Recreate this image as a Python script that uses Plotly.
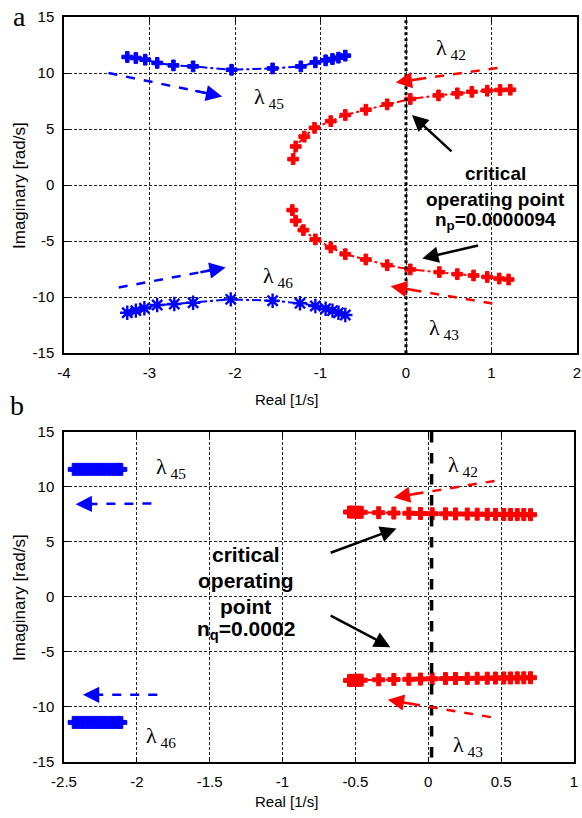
import plotly.graph_objects as go

BLUE = "#0000ff"
RED = "#ff0000"

# ---------------- panel a (top) data ----------------
a_l45_x = [-3.26, -3.16, -3.05, -2.91, -2.72, -2.49, -2.04, -1.56, -1.23, -1.06, -0.94, -0.86, -0.79, -0.71]
a_l45_y = [11.43, 11.34, 11.19, 10.90, 10.68, 10.59, 10.29, 10.41, 10.59, 10.95, 11.13, 11.25, 11.37, 11.55]
a_l46_x = [-3.26, -3.16, -3.06, -2.91, -2.71, -2.49, -2.05, -1.56, -1.24, -1.06, -0.94, -0.86, -0.79, -0.71]
a_l46_y = [-11.40, -11.22, -11.01, -10.71, -10.63, -10.51, -10.21, -10.33, -10.56, -10.80, -11.05, -11.22, -11.40, -11.61]
a_l42_x = [-1.32, -1.29, -1.19, -1.07, -0.88, -0.71, -0.47, -0.22, 0.05, 0.38, 0.60, 0.77, 0.95, 1.10, 1.22]
a_l42_y = [2.31, 3.44, 4.32, 5.10, 5.70, 6.25, 6.72, 7.20, 7.68, 8.00, 8.18, 8.32, 8.42, 8.48, 8.51]
a_l43_x = [-1.33, -1.29, -1.20, -1.06, -0.88, -0.71, -0.47, -0.22, 0.05, 0.39, 0.60, 0.79, 0.95, 1.09, 1.20]
a_l43_y = [-2.24, -3.20, -4.03, -4.86, -5.58, -6.18, -6.65, -7.16, -7.54, -7.78, -7.96, -8.08, -8.21, -8.35, -8.44]

# ---------------- panel b (bottom) data ----------------
b_l45_x = [-2.43, -2.40, -2.37, -2.34, -2.31, -2.28, -2.25, -2.22, -2.19, -2.16, -2.13, -2.11]
b_l45_y = [11.60, 11.60, 11.60, 11.60, 11.60, 11.60, 11.60, 11.60, 11.60, 11.60, 11.60, 11.60]
b_l46_x = [-2.43, -2.40, -2.37, -2.34, -2.31, -2.28, -2.25, -2.22, -2.19, -2.16, -2.13, -2.11]
b_l46_y = [-11.40, -11.40, -11.40, -11.40, -11.40, -11.40, -11.40, -11.40, -11.40, -11.40, -11.40, -11.40]
b_l42_x = [-0.54, -0.52, -0.50, -0.48, -0.46, -0.34, -0.236, -0.133, -0.053, 0.027, 0.119, 0.187,
           0.268, 0.336, 0.405, 0.462, 0.519, 0.565, 0.611, 0.656, 0.702]
b_l42_y = [7.72, 7.72, 7.71, 7.70, 7.70, 7.66, 7.63, 7.61, 7.59, 7.57, 7.56, 7.55,
           7.54, 7.53, 7.52, 7.51, 7.50, 7.50, 7.49, 7.49, 7.48]
b_l43_x = [-0.54, -0.52, -0.50, -0.48, -0.46, -0.34, -0.236, -0.133, -0.053, 0.027, 0.119, 0.187,
           0.268, 0.336, 0.405, 0.462, 0.519, 0.565, 0.611, 0.656, 0.702]
b_l43_y = [-7.58, -7.58, -7.57, -7.57, -7.56, -7.53, -7.50, -7.48, -7.46, -7.44, -7.42, -7.41,
           -7.40, -7.39, -7.38, -7.37, -7.36, -7.36, -7.35, -7.35, -7.34]

# tick labels
a_xticks = [-4, -3, -2, -1, 0, 1, 2]
a_xlabels = ["-4", "-3", "-2", "-1", "0", "1", "2"]
b_xticks = [-2.5, -2, -1.5, -1, -0.5, 0, 0.5, 1]
b_xlabels = ["-2.5", "-2", "-1.5", "-1", "-0.5", "0", "0.5", "1"]
yticks = [-15, -10, -5, 0, 5, 10, 15]
ylabels = ["-15", "-10", "-5", "0", "5", "10", "15"]

# arrows: (start_x, start_y, tip_x, tip_y, color, dashed)
a_arrows = [
    (-3.48, 10.00, -2.15, 7.91, BLUE, True),
    (-3.36, -9.15, -2.11, -7.37, BLUE, True),
    (1.07, 10.45, -0.12, 9.16, RED, True),
    (1.01, -10.58, -0.18, -9.04, RED, True),
    (0.55, 2.88, 0.07, 6.25, "black", False),
    (0.86, -5.37, 0.19, -6.56, "black", False),
]
b_arrows = [
    (-1.90, 8.50, -2.42, 8.44, BLUE, True),
    (-1.86, -8.89, -2.37, -8.89, BLUE, True),
    (0.455, 10.55, -0.236, 9.05, RED, True),
    (0.43, -10.92, -0.277, -9.35, RED, True),
    (-0.68, 3.97, -0.218, 6.23, "black", False),
    (-0.68, -1.63, -0.26, -4.56, "black", False),
]

SANS = "Liberation Sans, Arial, Helvetica, sans-serif"
SERIF = "Liberation Serif, Times New Roman, serif"

fig = go.Figure()


def series(x, y, color, symbol, xa, ya, line=True, size=9, lw=1):
    fig.add_trace(go.Scatter(
        x=x, y=y, xaxis=xa, yaxis=ya,
        mode="lines+markers" if line else "markers",
        line=dict(color=color, width=2, dash="dashdot"),
        marker=dict(color=color, symbol=symbol, size=size,
                    line=dict(color=color, width=lw)),
        showlegend=False, hoverinfo="skip"))


series(a_l45_x, a_l45_y, BLUE, "cross", "x", "y")
series(a_l46_x, a_l46_y, BLUE, "asterisk-open", "x", "y", size=12, lw=2.4)
series(a_l42_x, a_l42_y, RED, "cross", "x", "y")
series(a_l43_x, a_l43_y, RED, "cross", "x", "y")

series(b_l45_x, b_l45_y, BLUE, "cross", "x2", "y2", line=False, size=10)
series(b_l46_x, b_l46_y, BLUE, "cross", "x2", "y2", line=False, size=10)
series(b_l42_x, b_l42_y, RED, "cross", "x2", "y2", size=10)
series(b_l43_x, b_l43_y, RED, "cross", "x2", "y2", size=10)

# stability boundary lines
fig.add_trace(go.Scatter(x=[0, 0], y=[14.7, -15], xaxis="x", yaxis="y", mode="lines",
                         line=dict(color="black", width=3, dash="dot"),
                         showlegend=False, hoverinfo="skip"))
fig.add_trace(go.Scatter(x=[0.023, 0.023], y=[15, -15], xaxis="x2", yaxis="y2", mode="lines",
                         line=dict(color="black", width=3.5, dash="dash"),
                         showlegend=False, hoverinfo="skip"))

annotations = []


def add_arrows(arrows, xa, ya):
    for sx, sy, tx, ty, col, dashed in arrows:
        if dashed:
            fig.add_trace(go.Scatter(
                x=[sx, sx + 0.85 * (tx - sx)], y=[sy, sy + 0.85 * (ty - sy)],
                xaxis=xa, yaxis=ya, mode="lines",
                line=dict(color=col, width=2.5, dash="dash"),
                showlegend=False, hoverinfo="skip"))
            bx, by = sx + 0.75 * (tx - sx), sy + 0.75 * (ty - sy)
        else:
            bx, by = sx, sy
        annotations.append(dict(
            x=tx, y=ty, ax=bx, ay=by, xref=xa, yref=ya, axref=xa, ayref=ya,
            text="", showarrow=True, arrowhead=2, arrowsize=1.3,
            arrowwidth=2.5, arrowcolor=col, standoff=0))


add_arrows(a_arrows, "x", "y")
add_arrows(b_arrows, "x2", "y2")

# lambda labels: (x_left, y_center, subscript, axes)
lam_labels = [
    (-1.80, 7.8, "45", "x", "y"),
    (-1.70, -8.2, "46", "x", "y"),
    (0.333, 12.17, "42", "x", "y"),
    (0.248, -12.88, "43", "x", "y"),
    (-1.883, 11.68, "45", "x2", "y2"),
    (-1.952, -12.75, "46", "x2", "y2"),
    (0.119, 11.89, "42", "x2", "y2"),
    (0.158, -13.52, "43", "x2", "y2"),
]
for lx, ly, sub, xa, ya in lam_labels:
    annotations.append(dict(
        x=lx, y=ly, xref=xa, yref=ya, xanchor="left", yanchor="middle",
        text="λ<sub> %s</sub>" % sub, showarrow=False,
        font=dict(family=SERIF, size=22, color="black")))

# critical operating point text
crit_a = [(1.05, 1.04, "critical"), (1.05, -1.29, "operating point"),
          (1.05, -3.2, "n<sub>p</sub>=0.0000094")]
for tx, ty, t in crit_a:
    annotations.append(dict(x=tx, y=ty, xref="x", yref="y", text="<b>%s</b>" % t,
                            showarrow=False, xanchor="center", yanchor="middle",
                            font=dict(family=SANS, size=19, color="black")))
crit_b = [(-1.254, 3.9, "critical"), (-1.254, 1.54, "operating"), (-1.254, -0.88, "point"),
          (-1.254, -3.0, "n<sub>q</sub>=0.0002")]
for tx, ty, t in crit_b:
    annotations.append(dict(x=tx, y=ty, xref="x2", yref="y2", text="<b>%s</b>" % t,
                            showarrow=False, xanchor="center", yanchor="middle",
                            font=dict(family=SANS, size=21, color="black")))

# axis titles and panel letters (paper coords)
for py in (0.7745, 0.2215):
    annotations.append(dict(x=-0.0858, y=py, xref="paper", yref="paper",
                            text="Imaginary [rad/s]", textangle=-90, showarrow=False,
                            xanchor="center", yanchor="middle",
                            font=dict(family=SANS, size=17, color="black")))
for py in (0.486, -0.053):
    annotations.append(dict(x=(286 - 64) / 513, y=py, xref="paper", yref="paper",
                            text="Real [1/s]", showarrow=False,
                            xanchor="center", yanchor="middle",
                            font=dict(family=SANS, size=15, color="black")))
annotations.append(dict(x=(19 - 64) / 513, y=(762 - 16) / 745, xref="paper", yref="paper",
                        text="a", showarrow=False, xanchor="center", yanchor="middle",
                        font=dict(family=SERIF, size=28, color="black")))
annotations.append(dict(x=(17 - 64) / 513, y=(762 - 406) / 745, xref="paper", yref="paper",
                        text="b", showarrow=False, xanchor="center", yanchor="middle",
                        font=dict(family=SERIF, size=28, color="black")))

axis_common = dict(showline=True, linecolor="black", linewidth=1.5, mirror="ticks",
                   ticks="inside", ticklen=5, tickcolor="black", tickwidth=1,
                   showgrid=True, gridcolor="#222", gridwidth=1, griddash="3px,2px",
                   zeroline=False, automargin=False, ticklabeloverflow="allow",
                   tickfont=dict(family=SANS, size=15, color="black"))

fig.update_layout(
    width=582, height=818,
    margin=dict(l=64, r=5, t=17, b=56),
    paper_bgcolor="white", plot_bgcolor="white",
    xaxis=dict(domain=[0, 1], range=[-4, 2], anchor="y", tickvals=a_xticks,
               ticktext=a_xlabels, ticklabelstandoff=5, **axis_common),
    yaxis=dict(domain=[0.549, 1], range=[-15, 15], anchor="x", tickvals=yticks,
               ticktext=ylabels, ticklabelstandoff=5, **axis_common),
    xaxis2=dict(domain=[0, 0.994], range=[-2.5, 1], anchor="y2", tickvals=b_xticks,
                ticktext=b_xlabels, ticklabelstandoff=5, **axis_common),
    yaxis2=dict(domain=[0, 0.443], range=[-15, 15], anchor="x2", tickvals=yticks,
                ticktext=ylabels, ticklabelstandoff=5, **axis_common),
    annotations=annotations,
)

fig.write_html("out.html", config={"displayModeBar": False},
               post_script="document.body.style.margin='0';document.body.style.overflow='hidden';")
